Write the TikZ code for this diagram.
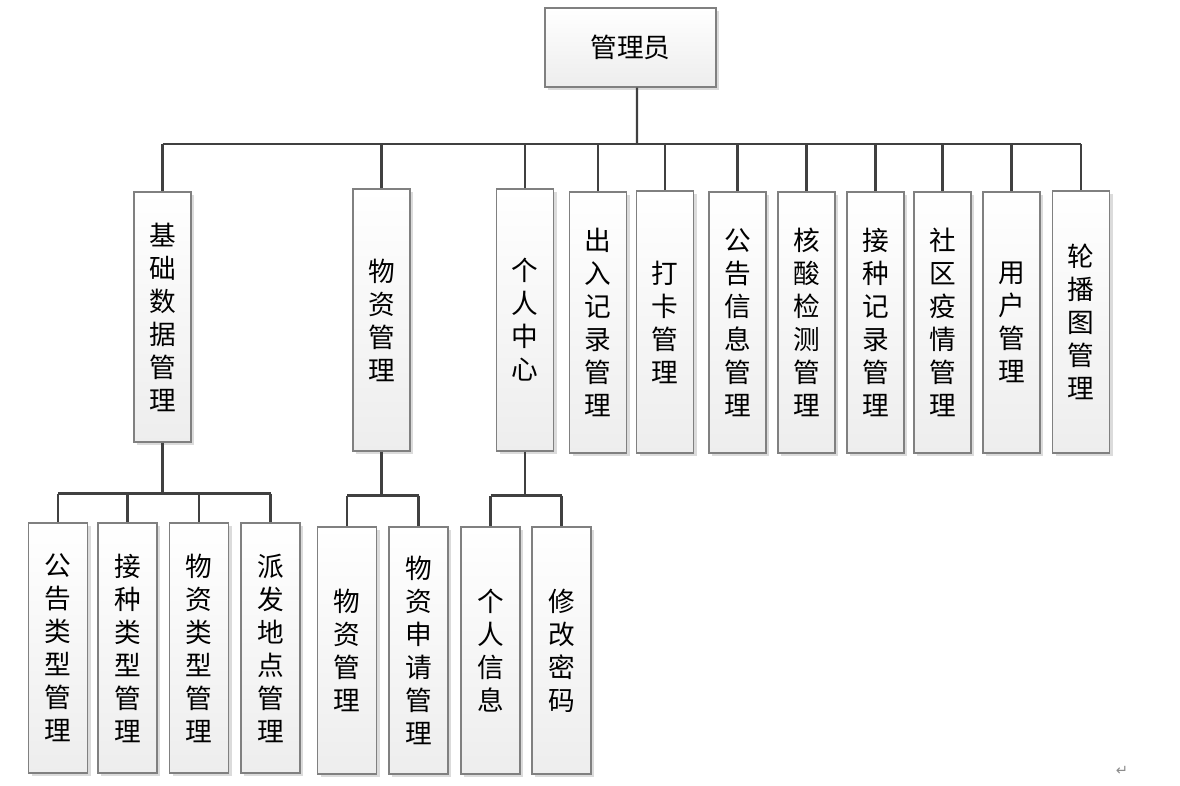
\documentclass[tikz,border=0pt]{standalone}
\usepackage{fontspec}
\newfontfamily\cjk{Noto Sans CJK SC}
\newfontfamily\symfont{DejaVu Sans}
\usetikzlibrary{positioning,calc,shadows}
\definecolor{linkcolor}{RGB}{64,64,64}
\definecolor{edgecolor}{RGB}{128,128,128}
\tikzset{
  box/.style={draw=edgecolor, line width=0.8pt, top color=white, bottom color=black!7,
    inner sep=0pt, align=center, font=\cjk\fontsize{20}{24.75}\selectfont,
    drop shadow={shadow xshift=2.4pt, shadow yshift=-2.4pt, fill=black!14, opacity=1}},
  link/.style={draw=linkcolor, line width=1.8pt},
}

\begin{document}
\begin{tikzpicture}[x=0.75pt, y=-0.75pt]
    \useasboundingbox (0,0) rectangle (1180,785);
    % root
    \node[box, minimum width=128.25pt, minimum height=59.25pt] (adm) at (630.5,47.5) {管理员};
    \coordinate (bus) at (637,144);
    % second level
    \foreach \n/\cx/\cy/\h/\txt in {
      jc/162.5/317/187.5/{基\\础\\数\\据\\管\\理},
      wz/381.5/320/196.5/{物\\资\\管\\理},
      gr/525/320/196.5/{个\\人\\中\\心},
      cr/598/322.5/195.75/{出\\入\\记\\录\\管\\理},
      dk/665/322/196.5/{打\\卡\\管\\理},
      gg/737.5/322.5/195.75/{公\\告\\信\\息\\管\\理},
      hs/806.5/322.5/195.75/{核\\酸\\检\\测\\管\\理},
      jz/875.5/322.5/195.75/{接\\种\\记\\录\\管\\理},
      sq/942.5/322.5/195.75/{社\\区\\疫\\情\\管\\理},
      yh/1011.5/322.5/195.75/{用\\户\\管\\理},
      lb/1081/322/196.5/{轮\\播\\图\\管\\理}} {
      \node[box, minimum width=42.75pt, minimum height=\h pt] (\n) at (\cx,\cy) {\txt};
    }
    % third level
    \foreach \n/\cx/\cy/\h/\txt in {
      gl/58/648/187.5/{公\\告\\类\\型\\管\\理},
      jl/127.5/648/187.5/{接\\种\\类\\型\\管\\理},
      wl/199/648/187.5/{物\\资\\类\\型\\管\\理},
      pf/270.5/648/187.5/{派\\发\\地\\点\\管\\理},
      wg/347/650.5/185.25/{物\\资\\管\\理},
      ws/418.5/650.5/185.25/{物\\资\\申\\请\\管\\理},
      gx/490.5/650.5/185.25/{个\\人\\信\\息},
      xg/561.5/650.5/185.25/{修\\改\\密\\码}} {
      \node[box, minimum width=44.25pt, minimum height=\h pt] (\n) at (\cx,\cy) {\txt};
    }
    % connectors
    \draw[link] ([xshift=4.9pt]adm.south) -- (bus);
    \draw[link] (jc.north |- bus) -- (lb.north |- bus);
    \foreach \n in {jc,wz,gr,cr,dk,gg,hs,jz,sq,yh,lb}
      \draw[link] (\n.north |- bus) -- (\n.north);
    \draw[link] (jc.south) -- ++(0,51) coordinate (jcbus);
    \draw[link] (gl.north |- jcbus) -- (pf.north |- jcbus);
    \foreach \n in {gl,jl,wl,pf}
      \draw[link] (\n.north |- jcbus) -- (\n.north);
    \draw[link] (wz.south) -- ++(0,44) coordinate (wzbus);
    \draw[link] (wg.north |- wzbus) -- (ws.north |- wzbus);
    \foreach \n in {wg,ws}
      \draw[link] (\n.north |- wzbus) -- (\n.north);
    \draw[link] (gr.south) -- ++(0,44) coordinate (grbus);
    \draw[link] (gx.north |- grbus) -- (xg.north |- grbus);
    \foreach \n in {gx,xg}
      \draw[link] (\n.north |- grbus) -- (\n.north);
    % paragraph mark
    \node[text=black!45, font=\symfont\fontsize{11}{13}\selectfont] (pm) at (1122,771) {↵};
\end{tikzpicture}
\end{document}
